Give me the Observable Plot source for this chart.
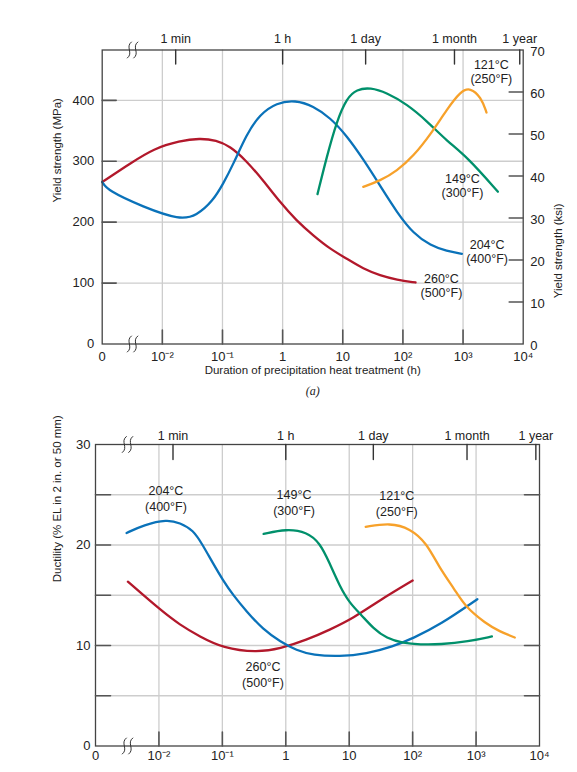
<!DOCTYPE html>
<html><head><meta charset="utf-8">
<script src="https://cdn.jsdelivr.net/npm/d3@7"></script>
<script src="https://cdn.jsdelivr.net/npm/@observablehq/plot@0.6"></script>
<style>
body{margin:0;background:#fff;}
#chart{width:577px;}
#chart svg{display:block;}
</style></head><body><div id="chart"></div>
<script>
// ---------- data (time in hours; 0 sits at the broken-axis origin) ----------
const ORIGIN = 1e-3;
const KSI = 6.8948; // MPa per ksi

const decadeTicks = [1e-3, 1e-2, 1e-1, 1, 10, 100, 1000, 1e4];
const decadeLabels = ["0", "10⁻²", "10⁻¹", "1", "10", "10²", "10³", "10⁴"];
const innerDecades = [1e-2, 1e-1, 1, 10, 100, 1000];
const periodTicks = [1/60, 1, 24, 720, 8760];
const periodLabels = ["1 min", "1 h", "1 day", "1 month", "1 year"];
const mpaTicks = [0, 100, 200, 300, 400];
const mpaGrid = [100, 200, 300, 400];
const ksiTicks = [0, 10, 20, 30, 40, 50, 60, 70];
const ksiInner = [10, 20, 30, 40, 50, 60];
const elTicks = [0, 10, 20, 30];
const elGrid = [5, 10, 15, 20, 25];
const breakAt = 0.0032;

// (a) yield strength, MPa  [hours, MPa]
const yield260 = [[0,266],[0.00288,296],[0.00724,321],[0.0195,333.4],[0.0417,337.8],[0.0794,334.5],[0.132,325],[0.251,300.7],[0.479,268],[0.912,232.5],[1.70,202.5],[3.24,178],[6.17,156],[11.7,140],[21.9,123.4],[41.7,112.5],[79.4,105.4],[162,101]];
const yield204 = [[0,266],[0.00123,252],[0.00479,225],[0.0195,203.6],[0.0372,210.7],[0.0692,235],[0.102,262.5],[0.151,295],[0.251,344],[0.417,377],[0.794,396],[1.62,400.5],[3.24,390.7],[6.17,371.6],[11.7,341.6],[21.9,303.4],[41.7,260],[79.4,216],[151,180.7],[288,161.6],[537,152.3],[955,148]];
const yield149 = [[3.80,246],[5.37,306],[7.94,366],[11.7,404],[17.0,418],[28.8,421],[53.7,412.5],[117,393.5],[251,366],[537,333.4],[1175,307],[3802,250]];
const yield121 = [[21.9,258],[41.7,268],[79.4,284],[151,309],[288,344],[537,385],[912,415],[1318,421],[1995,405],[2455,380]];

// (b) ductility, %EL  [hours, %]
const duct260 = [[0.00324,16.35],[0.0107,13.5],[0.0214,12.05],[0.0437,10.9],[0.102,9.74],[0.347,9.3],[0.813,9.67],[2.14,10.56],[4.9,11.56],[11.5,12.7],[30.2,14.5],[100,16.46]];
const duct204 = [[0.00309,21.2],[0.00575,22.0],[0.0135,22.55],[0.0214,22.2],[0.0347,21.5],[0.049,20],[0.0708,18.2],[0.102,16.5],[0.148,15],[0.24,13.4],[0.437,11.6],[0.813,10.4],[1.48,9.5],[2.69,9.04],[7.08,8.9],[18.6,9.17],[49,9.9],[102,10.73],[269,12.05],[1047,14.6]];
const duct149 = [[0.447,21.1],[1.02,21.6],[2.14,21.3],[3.47,20.2],[4.9,18.2],[7.08,15.9],[10.2,14.2],[15.5,13.05],[24,11.7],[38.9,10.7],[70.8,10.23],[132,10.1],[269,10.1],[759,10.4],[1778,10.9]];
const duct121 = [[18.2,21.8],[43.7,22.2],[91.2,21.65],[166,20.2],[257,17.85],[468,15.5],[676,13.85],[1413,12.2],[2344,11.4],[4074,10.8]];

const tempNames = ["260°C\n(500°F)", "204°C\n(400°F)", "149°C\n(300°F)", "121°C\n(250°F)"];
const colors = ["#b2182b", "#0a72b9", "#00906b", "#f7a12a"];
// label anchors [hours, value] per temperature
const labelsA = [[437, 96.5], [2512, 152], [977, 260], [2951, 447.5]];
const labelsB = [[0.437, 7.15], [0.0129, 24.7], [1.35, 24.3], [56.2, 24.2]];

// ---------- helpers ----------
const FONT = "'Liberation Sans', Arial, Helvetica, sans-serif";
const tx = d => (d[0] === 0 ? ORIGIN : d[0]);
const decadeMap = new Map(decadeTicks.map((t, i) => [t, decadeLabels[i]]));
const tickShape = {draw(ctx, l) { ctx.moveTo(0, 0); ctx.lineTo(0, -l); }};
const squiggle = {draw(ctx) {
  for (const ox of [-3.2, 3.2]) { ctx.moveTo(ox + 2, -8); ctx.bezierCurveTo(ox - 4.5, -3, ox + 4.5, 3, ox - 2, 8); }
}};
function inTicks(values, ch, frameAnchor, rotate, length, stroke = "#555", w = 1.6) {
  return Plot.vector(values, {[ch]: d => d, frameAnchor, rotate, length, anchor: "start", shape: tickShape, stroke, strokeWidth: w, fill: "none"});
}
function breaks() {
  return ["top", "bottom"].map(fa => Plot.vector([breakAt], {x: d => d, frameAnchor: fa, anchor: "start", length: 0, shape: squiggle, stroke: "#333", strokeWidth: 1, fill: "none"}));
}
function curves(series) {
  return series.map((s, i) => Plot.line(s, {x: tx, y: d => d[1], stroke: colors[i], strokeWidth: 2.3, curve: "basis"}));
}
function labels(anchors, lh) {
  return Plot.text(anchors.map((a, i) => ({t: a[0], v: a[1], s: tempNames[i]})),
    {x: "t", y: "v", text: "s", fill: "#222", fontSize: 12.5, lineHeight: lh, textAnchor: "middle"});
}
function periodText(dy) {
  return Plot.text(periodTicks, {x: d => d, text: (d, i) => periodLabels[i], frameAnchor: "top", dy, fontSize: 12.5, fill: "#222"});
}

// ---------- panel (a) ----------
const a = Plot.plot({
  width: 577, height: 400,
  marginLeft: 101.7, marginRight: 54.3, marginTop: 49.5, marginBottom: 56.5,
  style: {fontFamily: FONT, fontSize: "13px", color: "#222", background: "white"},
  x: {type: "log", domain: [ORIGIN, 1e4]},
  y: {domain: [0, 70 * KSI]},
  marks: [
    Plot.gridX(innerDecades, {stroke: "#cdcdcd", strokeOpacity: 1, strokeWidth: 1.3}),
    Plot.gridY(mpaGrid, {stroke: "#cdcdcd", strokeOpacity: 1, strokeWidth: 1.3}),
    ...curves([yield260, yield204, yield149, yield121]),
    Plot.frame({stroke: "#444", strokeWidth: 1.3}),
    inTicks(innerDecades, "x", "bottom", 0, 14),
    inTicks(periodTicks, "x", "top", 180, 14, "#333", 1.4),
    inTicks(mpaGrid, "y", "left", 90, 14),
    inTicks(ksiInner.map(k => k * KSI), "y", "right", -90, 14),
    ...breaks(),
    Plot.axisX({ticks: decadeTicks, tickFormat: d => decadeMap.get(d), anchor: "bottom", tickSize: 0, tickPadding: 8, label: null, fontSize: 13}),
    periodText(-16),
    Plot.axisY({ticks: mpaTicks, anchor: "left", tickSize: 0, tickPadding: 8, label: null, fontSize: 13}),
    Plot.axisY({ticks: ksiTicks.map(k => k * KSI), tickFormat: d => Math.round(d / KSI), anchor: "right", tickSize: 0, tickPadding: 7, dy: 1.5, label: null, fontSize: 13}),
    labels(labelsA, 1.12),
    Plot.text(["Yield strength (MPa)"], {frameAnchor: "left", dx: -45, dy: 5.5, rotate: -90, fontSize: 11.5, fill: "#222"}),
    Plot.text(["Yield strength (ksi)"], {frameAnchor: "right", dx: 35.5, dy: 6.5, rotate: -90, fontSize: 11.5, fill: "#222"}),
    Plot.text(["Duration of precipitation heat treatment (h)"], {frameAnchor: "bottom", dy: 29.5, fontSize: 11.5, fill: "#222"}),
    Plot.text(["(a)"], {frameAnchor: "bottom", dy: 51, fontSize: 12, fontStyle: "italic", fontFamily: "'Liberation Serif', 'DejaVu Serif', serif", fill: "#222"})
  ]
});

// ---------- panel (b) ----------
const b = Plot.plot({
  width: 577, height: 372,
  marginLeft: 95, marginRight: 38, marginTop: 44, marginBottom: 26.5,
  style: {fontFamily: FONT, fontSize: "13px", color: "#222", background: "white"},
  x: {type: "log", domain: [ORIGIN, 1e4]},
  y: {domain: [0, 30]},
  marks: [
    Plot.gridX(innerDecades, {stroke: "#cdcdcd", strokeOpacity: 1, strokeWidth: 1.3}),
    Plot.gridY(elGrid, {stroke: "#cdcdcd", strokeOpacity: 1, strokeWidth: 1.3}),
    ...curves([duct260, duct204, duct149, duct121]),
    Plot.frame({stroke: "#444", strokeWidth: 1.3}),
    inTicks(innerDecades, "x", "bottom", 0, 14),
    inTicks(periodTicks, "x", "top", 180, 15, "#333", 1.4),
    inTicks(elGrid, "y", "left", 90, 15),
    inTicks(elGrid, "y", "right", -90, 15),
    ...breaks(),
    Plot.axisX({ticks: decadeTicks, tickFormat: d => decadeMap.get(d), anchor: "bottom", tickSize: 0, tickPadding: 5, label: null, fontSize: 13}),
    periodText(-13),
    Plot.axisY({ticks: elTicks, anchor: "left", tickSize: 0, tickPadding: 5, label: null, fontSize: 13}),
    labels(labelsB, 1.25),
    Plot.text(["Ductility (% EL in 2 in. or 50 mm)"], {frameAnchor: "left", dx: -38, dy: -13, rotate: -90, fontSize: 11.5, fill: "#222"})
  ]
});

const root = document.getElementById("chart");
root.appendChild(a);
root.appendChild(b);
</script></body></html>
